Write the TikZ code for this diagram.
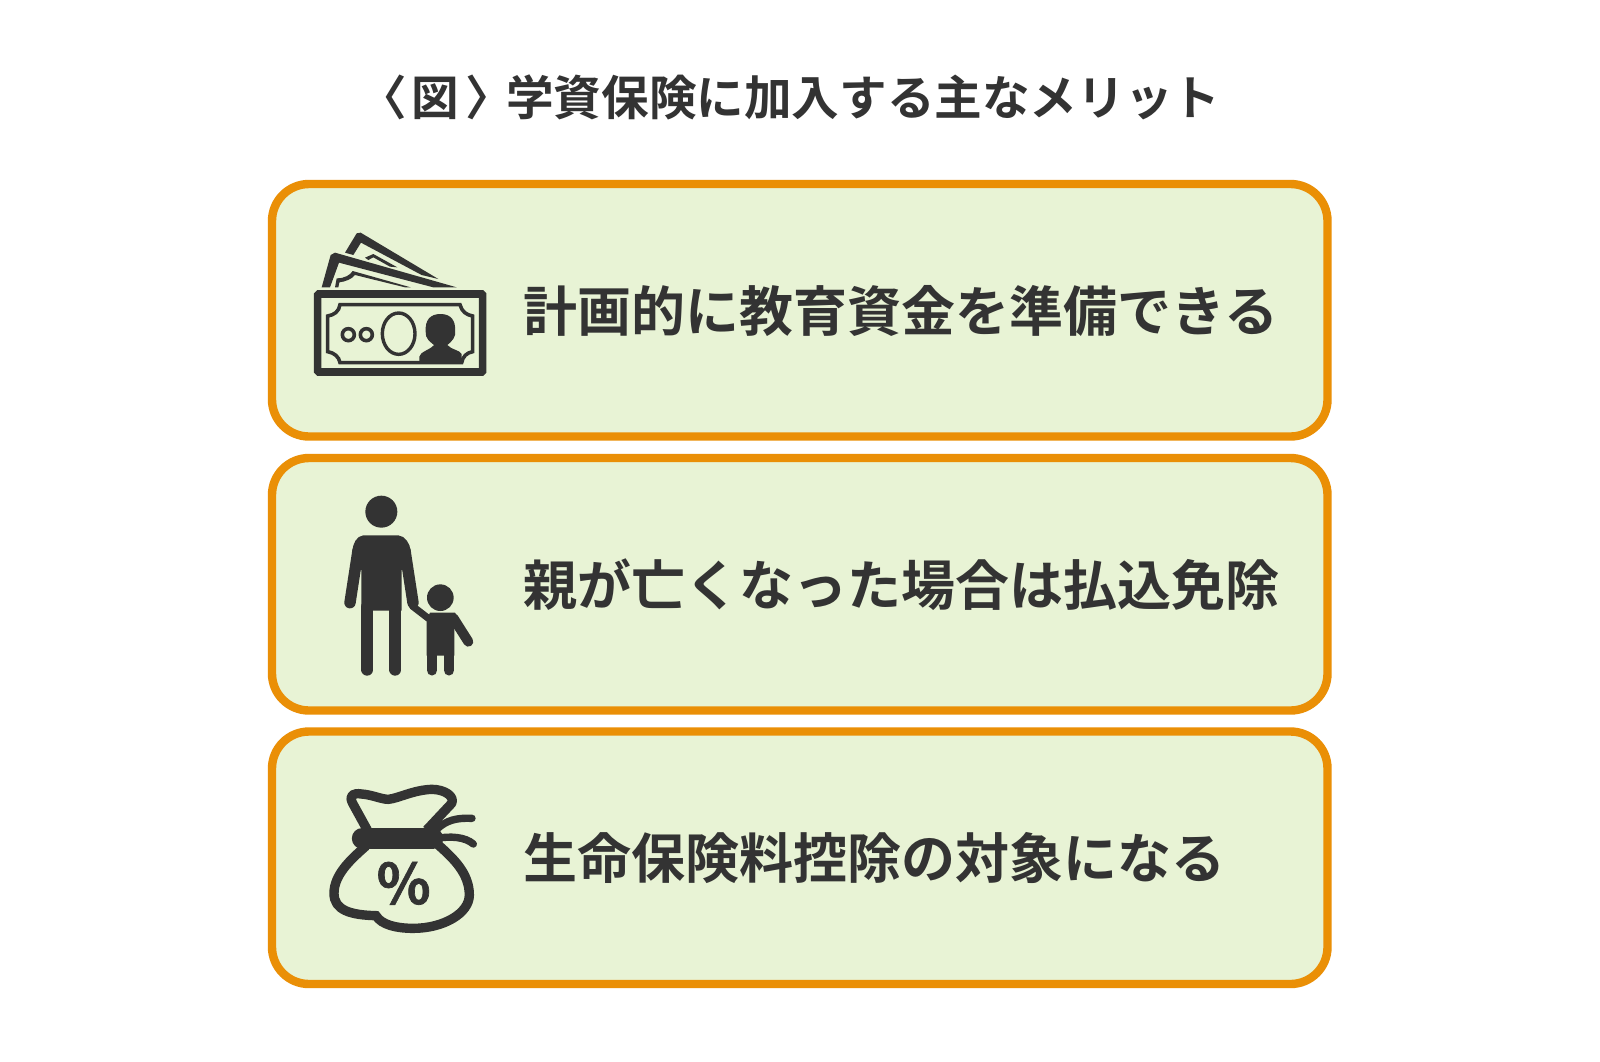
\documentclass[tikz,border=0pt]{standalone}
\usepackage{fontspec}
\setmainfont{Noto Sans CJK JP Bold}
\definecolor{ink}{HTML}{333333}
\definecolor{rim}{HTML}{EA8F06}
\definecolor{leaf}{HTML}{E8F3D5}
\tikzset{
  meritbox/.style={rectangle, draw=rim, fill=leaf, line width=8.4pt, rounded corners=37pt, minimum width=1055.5pt, minimum height=252.5pt, inner sep=0pt},
  merittext/.style={anchor=west, inner sep=0pt, text=ink, font=\fontsize{54}{60}\selectfont},
  icon/.style={shift={#1}, scale=1/3}
}
\begin{document}
\begin{tikzpicture}[x=1pt, y=-1pt]
  \useasboundingbox[fill=white] (0,0) rectangle (1600,1061);
  \node[anchor=west, inner sep=0pt, text=ink, font=\fontsize{47.6}{54}\selectfont] (title) at (359,97) {〈\kern4.4pt図\kern6.4pt〉\kern-6.6pt学資保険に加入する主なメリット};
  \node[meritbox] (box1) at (799.75,310.25) {};
  \node[meritbox] (box2) at (799.75,584.25) {};
  \node[meritbox] (box3) at (799.75,857.75) {};
  \node[merittext] (text1) at (523,311) {計画的に教育資金を準備できる};
  \node[merittext] (text2) at (523,584.5) {親が亡くなった場合は払込免除};
  \node[merittext] (text3) at (523,858) {生命保険料控除の対象になる};
  \begin{scope}[icon={(290,210)}]
    \fill[ink] (165,128) -- (200,70) -- (212,68) -- (445,207) -- (395,195) -- (213,98) -- (190,135) -- cycle;
    \fill[ink] (225,143) -- (250,132) -- (322,172) -- (300,170) -- (250,142) -- (235,150) -- cycle;
    \fill[ink] (95,232) -- (122,135) -- (135,128) -- (500,232) -- (430,232) -- (147,158) -- (120,232) -- cycle;
    \fill[ink] (135,232) -- (140,205) .. controls (165,205) and (180,195) .. (188,183) -- (362,232) -- (345,232) -- (195,195) .. controls (185,208) and (165,215) .. (148,217) -- (145,232) -- cycle;
    \draw[ink, line width=7.6pt, rounded corners=1pt] (83,252) rectangle (578,486);
    \draw[ink, line width=3.6pt] (150,284) -- (510,284) .. controls (515,305) and (530,315) .. (548,318) -- (548,425) .. controls (530,428) and (518,440) .. (515,458) -- (150,458) .. controls (147,440) and (132,428) .. (113,425) -- (113,318) .. controls (132,315) and (147,305) .. (150,284) -- cycle;
    \draw[ink, line width=3.6pt] (175,374) circle[radius=18];
    \draw[ink, line width=3.6pt] (229,374) circle[radius=18];
    \draw[ink, line width=3.4pt] (326,371) ellipse[x radius=49, y radius=62];
    \fill[ink] (388,460) -- (388,440) .. controls (390,425) and (420,420) .. (432,405) .. controls (420,395) and (405,385) .. (407,365) .. controls (405,330) and (420,312) .. (452,312) .. controls (485,312) and (497,335) .. (495,360) .. controls (500,380) and (485,395) .. (472,405) .. controls (485,420) and (510,420) .. (515,432) -- (515,460) -- cycle;
  \end{scope}
  \begin{scope}[icon={(320,480)}]
    \fill[ink] (184,95) circle[radius=48];
    \fill[ink] (130,166) -- (235,166) .. controls (255,168) and (270,190) .. (272,212) -- (245,270) -- (245,392) -- (124,392) -- (124,270) -- (97,212) .. controls (99,190) and (110,168) .. (130,166) -- cycle;
    \draw[ink, line width=11.4pt, line cap=round] (114,212) -- (90,368);
    \draw[ink, line width=11.4pt, line cap=round] (255,212) -- (279,368);
    \draw[ink, line width=12pt, line cap=round] (142,380) -- (142,569);
    \draw[ink, line width=12pt, line cap=round] (226,380) -- (226,569);
    \fill[ink] (361,353) circle[radius=40];
    \fill[ink] (330,398) -- (405,398) -- (412,410) -- (403,445) -- (403,527) -- (320,527) -- (320,420) -- cycle;
    \draw[ink, line width=10.4pt, line cap=round] (336,520) -- (336,571);
    \draw[ink, line width=10.4pt, line cap=round] (387,520) -- (387,571);
    \draw[ink, line width=10pt, line cap=round] (400,414) -- (445,485);
    \draw[ink, line width=7pt, line cap=round] (325,415) -- (277,378);
  \end{scope}
  \begin{scope}[icon={(310,770)}]
    \draw[ink, line width=9.4pt, line join=round] (172,180) -- (128,100) .. controls (115,75) and (130,68) .. (155,72) .. controls (185,74) and (215,88) .. (235,88) .. controls (265,85) and (310,60) .. (365,58) .. controls (405,58) and (435,80) .. (425,100) -- (350,180);
    \draw[ink, line width=21pt, line cap=round] (157,205) -- (368,205);
    \draw[ink, line width=9.4pt] (168,228) .. controls (120,270) and (72,315) .. (72,370) .. controls (72,420) and (120,435) .. (198,437) .. controls (215,465) and (260,475) .. (310,475) .. controls (400,475) and (478,430) .. (478,375) .. controls (478,310) and (430,265) .. (385,225);
    \draw[ink, line width=7.4pt, line cap=round] (380,178) .. controls (410,150) and (440,143) .. (486,145);
    \draw[ink, line width=7.4pt, line cap=round] (380,205) .. controls (420,198) and (465,200) .. (490,222);
    \node[inner sep=0pt, text=ink, font=\fontsize{56}{60}\selectfont\addfontfeature{FakeBold=1.2}] (pct) at (281,340) {\%};
  \end{scope}
\end{tikzpicture}
\end{document}
